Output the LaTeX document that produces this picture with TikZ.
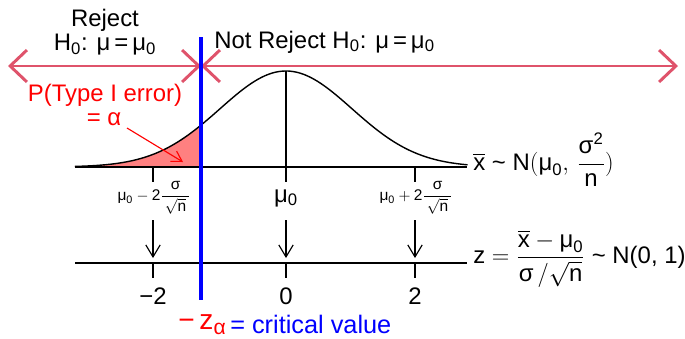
\documentclass[tikz,border=0pt]{standalone}
\usepackage{amsmath}
\usepackage{fontspec}
\setmainfont{Liberation Sans}
\usetikzlibrary{arrows.meta}
\definecolor{pinkred}{HTML}{DF536B}
\definecolor{tailred}{RGB}{255,128,128}
\newcommand{\tx}[1]{\text{#1}}
\newcommand{\tld}{\mathrel{\text{\textasciitilde}}}

\begin{document}
\begin{tikzpicture}[x=0.025cm, y=-0.025cm]
\tikzset{
  lbl/.style={font=\fontsize{17}{20}\selectfont, inner sep=0pt},
  sml/.style={font=\fontsize{11}{13}\selectfont, inner sep=0pt},
  ax/.style={line width=1.2pt, draw=black},
  rg/.style={line width=2.1pt, draw=pinkred, {Straight Barb[length=4.2mm,width=8mm]}-{Straight Barb[length=4.2mm,width=8mm]}},
  dn/.style={-{Straight Barb[length=3mm,width=3.6mm]}, line width=0.8pt},
  crit/.style={line width=2.4pt, draw=blue}
}
\useasboundingbox (0,0) rectangle (685,338);
% ---- decision regions
\node[lbl] (rej)  at (105,20) {Reject};
\node[lbl] (rejh) at (105,45) {H\textsubscript{0}: μ\,=\,μ\textsubscript{0}};
\node[lbl, anchor=west] (nrej) at (214,42) {Not Reject H\textsubscript{0}: μ\,=\,μ\textsubscript{0}};
\coordinate (lft) at (8,66); \coordinate (cut) at (201,66); \coordinate (rgt) at (678,66);
\draw[rg] (lft) -- (cut);
\draw[rg] (cut) -- (rgt);
% ---- sampling distribution of xbar
\fill[tailred] (75,167) -- plot[domain=-3.2:-1.29, samples=40] ({286+66*\x},{167-96*exp(-0.5*(\x)*(\x))}) -- (201,167) -- cycle;
\draw[line width=1pt] plot[domain=-3.2:2.75, samples=150] ({286+66*\x},{167-96*exp(-0.5*(\x)*(\x))});
\coordinate (peak) at (286,71); \coordinate (mu) at (286,167);
\draw[line width=1pt] (peak) -- (mu);
\coordinate (xa) at (75,167); \coordinate (xb) at (467,167);
\draw[ax] (xa) -- (xb);
\foreach \p in {153,286,415} \draw[ax] (\p,167) -- (\p,182);
\node[sml] (lo)  at (154,198) {$\tx{μ}_{\tx{0}} - \tx{2}\dfrac{\tx{σ}}{\,\sqrt{\tx{n}}\,}$};
\node[lbl] (mu0) at (286,198) {μ\textsubscript{0}};
\node[sml] (hi)  at (416,198) {$\tx{μ}_{\tx{0}} + \tx{2}\dfrac{\tx{σ}}{\,\sqrt{\tx{n}}\,}$};
\node[lbl, anchor=west] (xdist) at (473,160) {$\overline{\tx{x}} \tld \tx{N}(\tx{μ}_{\tx{0}},\, \dfrac{\tx{σ}^{\tx{2}}}{\tx{n}})$};
% ---- standardised scale
\foreach \p/\n in {153/1,286/2,415/3} {
  \coordinate (a\n) at (\p,220); \coordinate (b\n) at (\p,258);
  \draw[dn] (a\n) -- (b\n);
}
\coordinate (za) at (75,263); \coordinate (zb) at (467,263);
\draw[ax] (za) -- (zb);
\foreach \p in {153,286,415} \draw[ax] (\p,263) -- (\p,278);
\node[lbl] (zm2) at (153,296) {−2};
\node[lbl] (z0)  at (286,296) {0};
\node[lbl] (z2)  at (415,296) {2};
\node[lbl, anchor=west] (zdist) at (473,259) {$\tx{z} = \dfrac{\overline{\tx{x}} - \tx{μ}_{\tx{0}}}{\tx{σ}\,/\sqrt{\tx{n}}} \tld \tx{N(0, 1)}$};
% ---- type I error and critical value
\node[lbl, text=red] (perr) at (105,95) {P(Type I error)};
\node[lbl, text=red] (palf) at (104,119) {= α};
\coordinate (pa) at (127,128); \coordinate (pb) at (183,162);
\draw[red, line width=0.8pt, -{Straight Barb[length=2.5mm,width=3mm]}] (pa) -- (pb);
\coordinate (ctop) at (201,37); \coordinate (cbot) at (201,300);
\draw[crit] (ctop) -- (cbot);
\node[lbl, text=red, anchor=base east] (zal) at (226,329) {\fontsize{20}{22}\selectfont −\,z\raisebox{-4pt}{\fontsize{15}{15}\selectfont α}};
\node[lbl, text=blue, anchor=base west, font=\fontsize{18}{20}\selectfont] (cv) at (230,333) {= critical value};
\end{tikzpicture}
\end{document}
